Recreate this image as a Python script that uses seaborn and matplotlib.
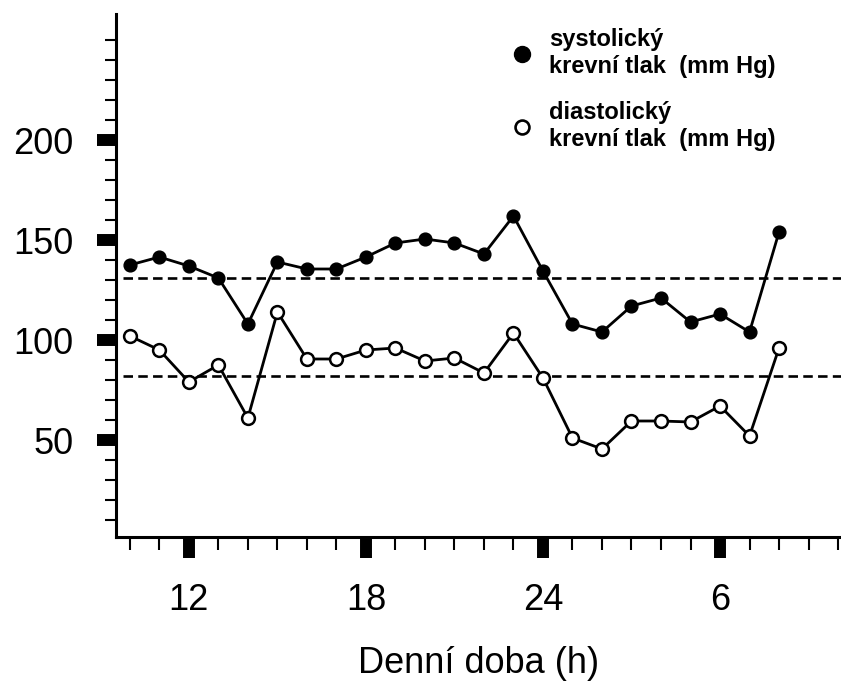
import matplotlib
matplotlib.use("Agg")
import matplotlib.pyplot as plt
from matplotlib.lines import Line2D
import seaborn as sns
import pandas as pd

# ---- data ----
hours = list(range(10, 33))
systolic = [137.5, 141.5, 137, 131, 108, 139, 135.5, 135.5, 141.5, 148.5, 150.5, 148.5,
            143, 162, 134.5, 108, 104, 117, 121, 109, 113, 104, 154]
diastolic = [102, 95, 79, 87.5, 61, 114, 90.5, 90.5, 95, 96, 89.5, 91, 83.5, 103.5,
             81, 51, 45.5, 59.5, 59.5, 59, 67, 52, 96]
thresholds = [131, 82]
series_labels = ["systolický\nkrevní tlak  (mm Hg)", "diastolický\nkrevní tlak  (mm Hg)"]
xtick_pos = [12, 18, 24, 30]
xtick_labels = ["12", "18", "24", "6"]
ytick_pos = [50, 100, 150, 200]
ytick_labels = ["50", "100", "150", "200"]
xlabel = "Denní doba (h)"

df = pd.DataFrame({"hour": hours, "sys": systolic, "dia": diastolic})

sns.set_style("ticks")
plt.rcParams["font.family"] = ["Liberation Sans", "DejaVu Sans"]
plt.rcParams["text.color"] = "black"
plt.rcParams["axes.labelcolor"] = "black"

fig = plt.figure(figsize=(8.41, 6.86), dpi=100)
ax = fig.add_axes([116 / 841, (686 - 537) / 686, (841 - 116) / 841, (537 - 14) / 686])

for t in thresholds:
    ax.axhline(t, xmin=0.01, xmax=1, color="black", linewidth=1.9, ls=(0, (3.6, 2.0)), zorder=1)

sns.lineplot(data=df, x="hour", y="sys", ax=ax, color="black", linewidth=2.0, marker="o",
             markersize=9.2, markerfacecolor="black", markeredgecolor="black",
             markeredgewidth=1.0, zorder=3)
sns.lineplot(data=df, x="hour", y="dia", ax=ax, color="black", linewidth=2.0, marker="o",
             markersize=9.2, markerfacecolor="white", markeredgecolor="black",
             markeredgewidth=1.8, zorder=3)

ax.set_xlim(9.53, 34.1)
ax.set_ylim(1.5, 263)

ax.set_xticks(xtick_pos)
ax.set_xticklabels(xtick_labels)
ax.set_xticks([h for h in range(10, 35) if h not in xtick_pos], minor=True)
ax.set_yticks(ytick_pos)
ax.set_yticklabels(ytick_labels)
ax.set_yticks([v for v in range(10, 260, 10) if v not in ytick_pos], minor=True)

ax.tick_params(axis="both", which="major", direction="out", color="black",
               labelsize=26, labelcolor="black")
ax.tick_params(axis="y", which="major", length=13.5, width=8.6, pad=17)
ax.tick_params(axis="x", which="major", length=15, width=8.6, pad=18)
ax.tick_params(axis="y", which="minor", length=8, width=1.5, direction="out", color="black")
ax.tick_params(axis="x", which="minor", length=9, width=1.5, direction="out", color="black")

for side in ["top", "right"]:
    ax.spines[side].set_visible(False)
for side in ["left", "bottom"]:
    ax.spines[side].set_linewidth(2.2)
    ax.spines[side].set_color("black")

ax.set_xlabel(xlabel, fontsize=26, labelpad=20, color="black")
ax.set_ylabel("")

handles = [
    Line2D([], [], ls="none", marker="o", markersize=11.5, markerfacecolor="black",
           markeredgecolor="black"),
    Line2D([], [], ls="none", marker="o", markersize=10, markerfacecolor="white",
           markeredgecolor="black", markeredgewidth=1.9),
]
leg = ax.legend(handles, series_labels, loc="upper left",
                bbox_to_anchor=(510 / 841, 1 - 28 / 686), bbox_transform=fig.transFigure,
                frameon=False, prop={"weight": "bold", "size": 17}, handlelength=1.0,
                handletextpad=0.65, labelspacing=1.0, borderpad=0, borderaxespad=0)
for txt in leg.get_texts():
    txt.set_color("black")

fig.savefig("out.png", dpi=100, facecolor="white")
